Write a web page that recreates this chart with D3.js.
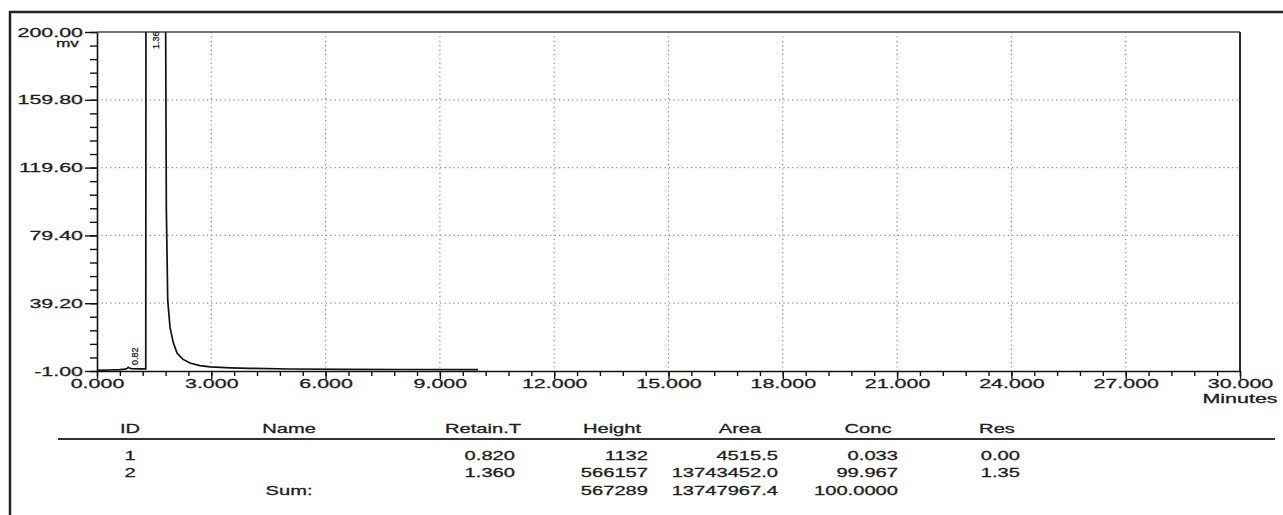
<!DOCTYPE html>
<html>
<head>
<meta charset="utf-8">
<script src="https://cdn.jsdelivr.net/npm/d3@7"></script>
<style>
  body { margin: 0; background: #fff; }
  svg { display: block; }
  text { font-family: "Liberation Sans", Arial, sans-serif; fill: #1e1e1e; stroke: #1e1e1e; stroke-width: 0.3; }
</style>
</head>
<body>
<div id="chart"></div>
<script>
const width = 1283,
  height = 515;

// detector trace (minutes, mV)
const times = [0, 0.3, 0.6, 0.75, 0.8, 0.82, 0.85, 0.9, 1.1, 1.28, 1.29, 1.55, 1.80, 1.82, 1.856, 1.916, 2.0, 2.10, 2.25, 2.44, 2.7, 2.97, 3.5, 4.0, 5.07, 6.5, 8.0, 10.0];
const signal = [-0.6, -0.4, -0.2, 0.1, 0.7, 1.2, 0.8, 0.4, 0.3, 0.3, 450, 560, 215, 95, 41, 25, 16, 9.7, 6.0, 3.7, 2.2, 1.4, 0.9, 0.6, 0.2, 0.0, -0.1, -0.2];

const peakTimes = [0.82, 1.36];
const peakNames = ["0.82", "1.36"];

const yTicks = [-1.00, 39.20, 79.40, 119.60, 159.80, 200.00];
const xTicks = [0, 3, 6, 9, 12, 15, 18, 21, 24, 27, 30];

// result table
const columns = ["ID", "Name", "Retain.T", "Height", "Area", "Conc", "Res"];
const idCol = ["1", "2", ""];
const nameCol = ["", "", "Sum:"];
const retainCol = ["0.820", "1.360", ""];
const heightCol = ["1132", "566157", "567289"];
const areaCol = ["4515.5", "13743452.0", "13747967.4"];
const concCol = ["0.033", "99.967", "100.0000"];
const resCol = ["0.00", "1.35", ""];

const sxAxis = 1.65, sxTable = 1.55; // the print is stretched sideways
const fs = 13;

const svg = d3.select("#chart")
  .append("svg")
  .attr("width", width)
  .attr("height", height);

// outer frame (left + top)
svg.append("path")
  .attr("d", `M10,${height} L10,12 L${width},12`)
  .attr("fill", "none")
  .attr("stroke", "#222")
  .attr("stroke-width", 2.5);

const x = d3.scaleLinear().domain([0, 30]).range([97, 1240]);
const y = d3.scaleLinear().domain([-1, 200]).range([371, 32]);

// dotted grid
const grid = svg.append("g")
  .attr("stroke", "#8a8a8a")
  .attr("stroke-width", 1.2)
  .attr("stroke-dasharray", "1.2,3.2");
grid.selectAll("line.v")
  .data(xTicks.slice(1, -1))
  .join("line")
  .attr("class", "v")
  .attr("x1", d => x(d)).attr("x2", d => x(d))
  .attr("y1", y(200)).attr("y2", y(-1));
grid.selectAll("line.h")
  .data(yTicks.slice(1, -1))
  .join("line")
  .attr("class", "h")
  .attr("x1", x(0)).attr("x2", x(30))
  .attr("y1", d => y(d)).attr("y2", d => y(d));

// top edge of plot, grey
svg.append("line")
  .attr("x1", x(0)).attr("x2", x(30))
  .attr("y1", y(200)).attr("y2", y(200))
  .attr("stroke", "#777")
  .attr("stroke-width", 2);

// minor ticks
svg.append("g")
  .attr("transform", `translate(0,${y(-1)})`)
  .call(d3.axisBottom(x).tickValues(d3.range(0, 30.001, 0.6)).tickSize(5).tickFormat(""))
  .call(g => g.select(".domain").remove());
svg.append("g")
  .attr("transform", `translate(${x(0)},0)`)
  .call(d3.axisLeft(y).tickValues(d3.range(-1, 200.01, 8.04)).tickSize(7).tickFormat(""))
  .call(g => g.select(".domain").remove());

// major axes
const xAxis = svg.append("g")
  .attr("transform", `translate(0,${y(-1)})`)
  .call(d3.axisBottom(x).tickValues(xTicks).tickSize(8).tickSizeOuter(0).tickFormat(d => d.toFixed(3)));
xAxis.selectAll("text")
  .attr("y", 8)
  .attr("font-size", fs)
  .attr("transform", `scale(${sxAxis},1)`);

const yAxis = svg.append("g")
  .attr("transform", `translate(${x(0)},0)`)
  .call(d3.axisLeft(y).tickValues(yTicks).tickSize(12).tickSizeOuter(0).tickFormat(d => d.toFixed(2)));
yAxis.selectAll("text")
  .attr("x", -14 / sxAxis)
  .attr("font-size", fs)
  .attr("transform", `scale(${sxAxis},1)`);

svg.selectAll(".tick line").attr("stroke", "#111").attr("stroke-width", 1.4);
svg.selectAll(".domain").attr("stroke", "#111").attr("stroke-width", 1.6);

// right edge
svg.append("line")
  .attr("x1", x(30)).attr("x2", x(30))
  .attr("y1", y(200)).attr("y2", y(-1))
  .attr("stroke", "#111")
  .attr("stroke-width", 1.8);

// units
svg.append("text")
  .attr("transform", `translate(79,${y(200) + 15}) scale(${sxAxis},1)`)
  .attr("text-anchor", "end")
  .attr("font-size", 10.5)
  .text("mv");
svg.append("text")
  .attr("transform", `translate(${x(30)},${y(-1) + 32}) scale(${sxAxis},1)`)
  .attr("text-anchor", "middle")
  .attr("font-size", fs)
  .text("Minutes");

// trace
svg.append("clipPath")
  .attr("id", "clip")
  .append("rect")
  .attr("x", x(0)).attr("y", y(200))
  .attr("width", x(30) - x(0)).attr("height", y(-1) - y(200));

const trace = times.map((t, i) => [t, signal[i]]);
svg.append("path")
  .datum(trace)
  .attr("clip-path", "url(#clip)")
  .attr("fill", "none")
  .attr("stroke", "#111")
  .attr("stroke-width", 1.7)
  .attr("d", d3.line().x(d => x(d[0])).y(d => y(d[1])));

// peak labels, small peak above its bump, main peak hanging from the top
svg.selectAll("text.peak")
  .data(peakTimes)
  .join("text")
  .attr("class", "peak")
  .attr("transform", (d, i) => `translate(${x(d) + 7},${i === 0 ? y(2.5) : y(200) + 17}) rotate(-90)`)
  .attr("dy", "0.35em")
  .attr("font-size", 9)
  .attr("stroke-width", 0.15)
  .text((d, i) => peakNames[i]);

// table
const headerY = 433,
  rowY = [460, 477, 495];
const colX = [130, 289, 483, 612, 740, 868, 997];
const colEnd = [null, null, 515, 648, 778, 898, 1020];
const colVals = [idCol, nameCol, retainCol, heightCol, areaCol, concCol, resCol];

const table = svg.append("g").attr("font-size", fs);

table.selectAll("text.head")
  .data(columns)
  .join("text")
  .attr("class", "head")
  .attr("transform", (d, i) => `translate(${colX[i]},${headerY}) scale(${sxTable},1)`)
  .attr("text-anchor", "middle")
  .text(d => d);

svg.append("line")
  .attr("x1", 58).attr("x2", 1275)
  .attr("y1", 439).attr("y2", 439)
  .attr("stroke", "#333")
  .attr("stroke-width", 2);

colVals.forEach((vals, c) => {
  table.append("g")
    .selectAll("text")
    .data(vals)
    .join("text")
    .attr("transform", (d, r) => `translate(${colEnd[c] ?? colX[c]},${rowY[r]}) scale(${sxTable},1)`)
    .attr("text-anchor", colEnd[c] ? "end" : "middle")
    .text(d => d);
});
</script>
</body>
</html>
